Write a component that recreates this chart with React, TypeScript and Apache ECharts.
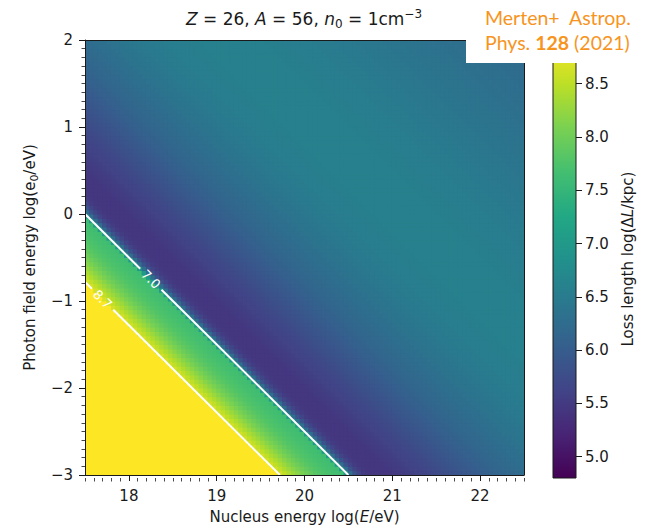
import React, { useEffect, useRef } from "react";
import * as echarts from "echarts";

// log10(loss length / kpc) along the diagonal s = log(E/eV) + log(e0/eV),
// starting at s = 14.55 in steps of 0.05 (values in the saturated corner sit at the colour-scale cap)
const S_START = 14.55;
const S_STEP = 0.05;
const LOSS_LENGTH = [
  8.91, 8.91, 8.91, 8.91, 8.91, 8.91, 8.91, 8.91, 8.91, 8.91, // 14.55 - 15.00
  8.91, 8.91, 8.91, 8.91, 8.91, 8.91, 8.91, 8.91, 8.91, 8.91, // 15.05 - 15.50
  8.91, 8.91, 8.91, 8.91, 8.91, 8.91, 8.91, 8.91, 8.91, 8.91, // 15.55 - 16.00
  8.91, 8.91, 8.91, 8.91, 8.91, 8.91, 8.91, 8.91, 8.91, 8.91, // 16.05 - 16.50
  8.91, 8.91, 8.91, 8.91, 8.64, 8.52, 8.40, 8.29, 8.18, 8.08, // 16.55 - 17.00
  7.99, 7.91, 7.84, 7.78, 7.74, 7.71, 7.68, 7.66, 7.62, 7.00, // 17.05 - 17.50
  6.30, 5.85, 5.62, 5.52, 5.47, 5.45, 5.44, 5.44, 5.45, 5.46, // 17.55 - 18.00
  5.48, 5.50, 5.52, 5.54, 5.57, 5.59, 5.62, 5.64, 5.67, 5.70, // 18.05 - 18.50
  5.73, 5.76, 5.79, 5.82, 5.85, 5.88, 5.91, 5.94, 5.97, 6.00, // 18.55 - 19.00
  6.03, 6.06, 6.09, 6.11, 6.14, 6.16, 6.18, 6.20, 6.22, 6.24, // 19.05 - 19.50
  6.26, 6.28, 6.30, 6.32, 6.34, 6.36, 6.38, 6.40, 6.41, 6.43, // 19.55 - 20.00
  6.44, 6.46, 6.47, 6.48, 6.49, 6.50, 6.51, 6.52, 6.53, 6.54, // 20.05 - 20.50
  6.54, 6.55, 6.55, 6.56, 6.56, 6.57, 6.57, 6.57, 6.58, 6.58, // 20.55 - 21.00
  6.58, 6.58, 6.58, 6.58, 6.58, 6.58, 6.57, 6.57, 6.57, 6.57, // 21.05 - 21.50
  6.56, 6.56, 6.56, 6.55, 6.55, 6.54, 6.54, 6.53, 6.53, 6.52, // 21.55 - 22.00
  6.52, 6.51, 6.51, 6.50, 6.49, 6.49, 6.48, 6.48, 6.47, 6.46, // 22.05 - 22.50
  6.46, 6.45, 6.44, 6.44, 6.43, 6.42, 6.42, 6.41, 6.40, 6.40, // 22.55 - 23.00
  6.39, 6.38, 6.38, 6.37, 6.36, 6.36, 6.35, 6.34, 6.34, 6.33, // 23.05 - 23.50
  6.32, 6.32, 6.31, 6.30, 6.30, 6.29, 6.28, 6.28, 6.27, 6.26, // 23.55 - 24.00
  6.26, 6.25, 6.24, 6.24, 6.23, 6.22, 6.22, 6.21, 6.20,       // 24.05 - 24.45
];

const X_RANGE = [17.5, 22.5];
const Y_RANGE = [-3, 2];
const CELL = 0.05;

const X_TICKS = [18, 19, 20, 21, 22];
const CBAR_TICKS = [5.0, 5.5, 6.0, 6.5, 7.0, 7.5, 8.0, 8.5];
const C_MIN = 4.8;
const C_MAX = 8.91;

// contour lines: level label, end points in (log E, log e0), label position along log E
const CONTOUR_LEVELS = ["7.0", "8.7"];
const CONTOUR_FROM = [[17.5, 0.0], [17.5, -0.78]];
const CONTOUR_TO = [[20.5, -3.0], [19.72, -3.0]];
const CONTOUR_LABEL_X = [18.25, 17.7];

const VIRIDIS = [
  "#440154", "#482475", "#414487", "#355f8d", "#2a788e", "#21918c",
  "#22a884", "#44bf70", "#7ad151", "#bddf26", "#fde725",
];

const FONT = "DejaVu Sans";
const INK = "#1a1a1a";
const ORANGE = "#f7941d";

const hexToRgb = (h: string) => [
  parseInt(h.slice(1, 3), 16),
  parseInt(h.slice(3, 5), 16),
  parseInt(h.slice(5, 7), 16),
];
const VIRIDIS_RGB = VIRIDIS.map(hexToRgb);

function viridis(v: number): string {
  let t = (v - C_MIN) / (C_MAX - C_MIN);
  t = Math.max(0, Math.min(1, t));
  const f = t * (VIRIDIS_RGB.length - 1);
  const i = Math.min(VIRIDIS_RGB.length - 2, Math.floor(f));
  const u = f - i;
  const a = VIRIDIS_RGB[i];
  const b = VIRIDIS_RGB[i + 1];
  const c = a.map((av, k) => Math.round(av + (b[k] - av) * u));
  return `rgb(${c[0]},${c[1]},${c[2]})`;
}

function buildCells() {
  const nx = Math.round((X_RANGE[1] - X_RANGE[0]) / CELL);
  const ny = Math.round((Y_RANGE[1] - Y_RANGE[0]) / CELL);
  const cells: number[][] = [];
  for (let j = 0; j < nx; j++) {
    const x = X_RANGE[0] + CELL * (j + 0.5);
    for (let k = 0; k < ny; k++) {
      const y = Y_RANGE[0] + CELL * (k + 0.5);
      const idx = Math.round((x + y - S_START) / S_STEP);
      cells.push([x, y, LOSS_LENGTH[idx]]);
    }
  }
  return cells;
}

function minorTicks(lo: number, hi: number) {
  const out: number[] = [];
  const n = Math.round((hi - lo) * 10);
  for (let i = 0; i <= n; i++) {
    const v = Math.round((lo + i / 10) * 10) / 10;
    if (Math.abs(v - Math.round(v)) > 1e-6) out.push(v);
  }
  return out;
}

const fmtMinus = (v: number) => (v < 0 ? "\u2212" + Math.abs(v) : String(v));

export default function App() {
  const ref = useRef<HTMLDivElement>(null);

  useEffect(() => {
    document.body.style.margin = "0";
    if (!ref.current) return;
    const chart = echarts.init(ref.current, undefined, { renderer: "svg" });

    const plot = { left: 85, top: 40, width: 439, height: 438 };
    const cbar = { left: 553, top: 40, width: 23, height: 438 };

    const axisLine = { show: true, onZero: false, lineStyle: { color: INK, width: 1 } };
    const tickLabel = { color: INK, fontSize: 15, fontFamily: FONT };

    const contourData = CONTOUR_LEVELS.map((lvl, i) => [
      CONTOUR_FROM[i][0], CONTOUR_FROM[i][1], CONTOUR_TO[i][0], CONTOUR_TO[i][1], CONTOUR_LABEL_X[i], i,
    ]);

    chart.setOption({
      animation: false,
      textStyle: { fontFamily: FONT },
      grid: [
        { ...plot },
        { ...cbar },
        { ...plot },
      ],
      xAxis: [
        {
          type: "value", gridIndex: 0, min: X_RANGE[0], max: X_RANGE[1], position: "bottom", z: 10,
          axisLine,
          axisTick: { show: true, customValues: X_TICKS, length: 6, lineStyle: { color: INK, width: 1 } },
          axisLabel: { ...tickLabel, customValues: X_TICKS, margin: 13 },
          splitLine: { show: false },
          name: "Nucleus energy log({i|E}/eV)",
          nameLocation: "middle",
          nameGap: 34,
          nameTextStyle: {
            color: INK, fontSize: 15, fontFamily: FONT,
            rich: { i: { fontStyle: "italic", fontSize: 15, fontFamily: FONT, color: INK } },
          },
        },
        {
          type: "value", gridIndex: 0, min: X_RANGE[0], max: X_RANGE[1], position: "top", z: 10,
          axisLine, axisTick: { show: false }, axisLabel: { show: false }, splitLine: { show: false },
        },
        {
          type: "value", gridIndex: 1, min: 0, max: 1, show: false,
        },
        {
          type: "value", gridIndex: 2, min: X_RANGE[0], max: X_RANGE[1], position: "bottom", z: 10,
          axisLine: { show: false, onZero: false },
          axisTick: { show: true, customValues: minorTicks(X_RANGE[0], X_RANGE[1]), length: 3.5, lineStyle: { color: INK, width: 0.8 } },
          axisLabel: { show: false },
          splitLine: { show: false },
        },
      ],
      yAxis: [
        {
          type: "value", gridIndex: 0, min: Y_RANGE[0], max: Y_RANGE[1], interval: 1, position: "left", z: 10,
          axisLine,
          axisTick: { show: true, length: 6, lineStyle: { color: INK, width: 1 } },
          minorTick: { show: true, splitNumber: 10, length: 3.5, lineStyle: { color: INK, width: 0.8 } },
          axisLabel: { ...tickLabel, margin: 12, formatter: fmtMinus },
          splitLine: { show: false },
          minorSplitLine: { show: false },
          name: "Photon field energy log(e{sub|0}/eV)",
          nameLocation: "middle",
          nameGap: 37,
          nameRotate: 90,
          nameTextStyle: {
            color: INK, fontSize: 15, fontFamily: FONT, lineHeight: 20,
            rich: { sub: { fontSize: 11, lineHeight: 12, verticalAlign: "bottom", fontFamily: FONT, color: INK } },
          },
        },
        {
          type: "value", gridIndex: 0, min: Y_RANGE[0], max: Y_RANGE[1], position: "right", z: 10,
          axisLine, axisTick: { show: false }, axisLabel: { show: false }, splitLine: { show: false },
        },
        {
          type: "value", gridIndex: 1, min: C_MIN, max: C_MAX, position: "right", z: 10,
          axisLine: { show: false, onZero: false },
          axisTick: { show: true, customValues: CBAR_TICKS, length: 6, lineStyle: { color: INK, width: 1 } },
          axisLabel: { ...tickLabel, customValues: CBAR_TICKS, margin: 9, formatter: (v: number) => v.toFixed(1) },
          splitLine: { show: false },
          name: "Loss length log(\u0394{i|L}/kpc)",
          nameLocation: "middle",
          nameGap: 44,
          nameRotate: 90,
          nameTextStyle: {
            color: INK, fontSize: 15, fontFamily: FONT,
            rich: { i: { fontStyle: "italic", fontSize: 15, fontFamily: FONT, color: INK } },
          },
        },
        {
          type: "value", gridIndex: 2, min: Y_RANGE[0], max: Y_RANGE[1], show: false,
        },
      ],
      series: [
        {
          type: "custom",
          xAxisIndex: 0,
          yAxisIndex: 0,
          clip: true,
          silent: true,
          progressive: 0,
          data: buildCells(),
          encode: { x: 0, y: 1 },
          renderItem: (_p: any, api: any) => {
            const x = api.value(0);
            const y = api.value(1);
            const v = api.value(2);
            const a = api.coord([x - CELL / 2, y + CELL / 2]);
            const b = api.coord([x + CELL / 2, y - CELL / 2]);
            const fill = viridis(v);
            return {
              type: "rect",
              shape: { x: a[0] - 0.5, y: a[1] - 0.5, width: b[0] - a[0] + 1, height: b[1] - a[1] + 1 },
              style: { fill },
            };
          },
        },
        {
          type: "custom",
          xAxisIndex: 0,
          yAxisIndex: 0,
          clip: true,
          silent: true,
          z: 4,
          data: contourData,
          encode: { x: 0, y: 1 },
          renderItem: (_p: any, api: any) => {
            const x0 = api.value(0), y0 = api.value(1), x1 = api.value(2), y1 = api.value(3);
            const lx = api.value(4);
            const level = CONTOUR_LEVELS[api.value(5)];
            const ly = y0 + ((lx - x0) / (x1 - x0)) * (y1 - y0);
            const a = api.coord([x0, y0]);
            const b = api.coord([x1, y1]);
            const c = api.coord([lx, ly]);
            const dx = b[0] - a[0];
            const dy = b[1] - a[1];
            const len = Math.hypot(dx, dy);
            const ux = dx / len, uy = dy / len;
            const gap = 15;
            const line = { stroke: "#ffffff", lineWidth: 2, lineCap: "butt" };
            return {
              type: "group",
              children: [
                { type: "line", shape: { x1: a[0], y1: a[1], x2: c[0] - ux * gap, y2: c[1] - uy * gap }, style: line },
                { type: "line", shape: { x1: c[0] + ux * gap, y1: c[1] + uy * gap, x2: b[0], y2: b[1] }, style: line },
                {
                  type: "text",
                  x: c[0],
                  y: c[1],
                  rotation: -Math.atan2(dy, dx),
                  style: {
                    text: level, fill: "#ffffff", fontSize: 13, fontFamily: FONT,
                    align: "center", verticalAlign: "middle",
                  },
                },
              ],
            };
          },
        },
        {
          type: "custom",
          xAxisIndex: 2,
          yAxisIndex: 2,
          silent: true,
          data: [[0, C_MIN, 1, C_MAX]],
          renderItem: (_p: any, api: any) => {
            const a = api.coord([api.value(0), api.value(3)]);
            const b = api.coord([api.value(2), api.value(1)]);
            return {
              type: "rect",
              shape: { x: a[0], y: a[1], width: b[0] - a[0], height: b[1] - a[1] },
              style: {
                fill: {
                  type: "linear", x: 0, y: 1, x2: 0, y2: 0,
                  colorStops: VIRIDIS.map((color, i) => ({ offset: i / (VIRIDIS.length - 1), color })),
                },
                stroke: INK,
                lineWidth: 1,
              },
            };
          },
        },
      ],
      graphic: [
        {
          type: "text",
          x: 304,
          y: 19,
          z: 100,
          style: {
            text: "{i|Z} = 26, {i|A} = 56, {i|n}{sub|0} = 1cm{sup|\u22123}",
            fill: INK,
            fontSize: 17,
            fontFamily: FONT,
            lineHeight: 22,
            align: "center",
            verticalAlign: "middle",
            rich: {
              i: { fontStyle: "italic", fontSize: 17, fontFamily: FONT, fill: INK, lineHeight: 22 },
              sub: { fontSize: 12, fontFamily: FONT, fill: INK, lineHeight: 12, verticalAlign: "bottom" },
              sup: { fontSize: 12, fontFamily: FONT, fill: INK, lineHeight: 12, verticalAlign: "top" },
            },
          },
        },
        {
          type: "rect",
          z: 100,
          shape: { x: 466, y: 0, width: 182, height: 63 },
          style: { fill: "#ffffff" },
        },
        {
          type: "text",
          x: 485,
          y: 17,
          z: 101,
          style: {
            text: "Merten+  Astrop.",
            fill: ORANGE,
            fontSize: 19.5,
            fontFamily: "Lato",
            verticalAlign: "middle",
          },
        },
        {
          type: "text",
          x: 485,
          y: 42,
          z: 101,
          style: {
            text: "Phys. {b|128} (2021)",
            fill: ORANGE,
            fontSize: 19.5,
            fontFamily: "Lato",
            verticalAlign: "middle",
            rich: { b: { fontWeight: "bold", fontSize: 19.5, fontFamily: "Lato", fill: ORANGE } },
          },
        },
      ],
    });

    return () => chart.dispose();
  }, []);

  return <div ref={ref} style={{ width: 648, height: 529 }} />;
}
